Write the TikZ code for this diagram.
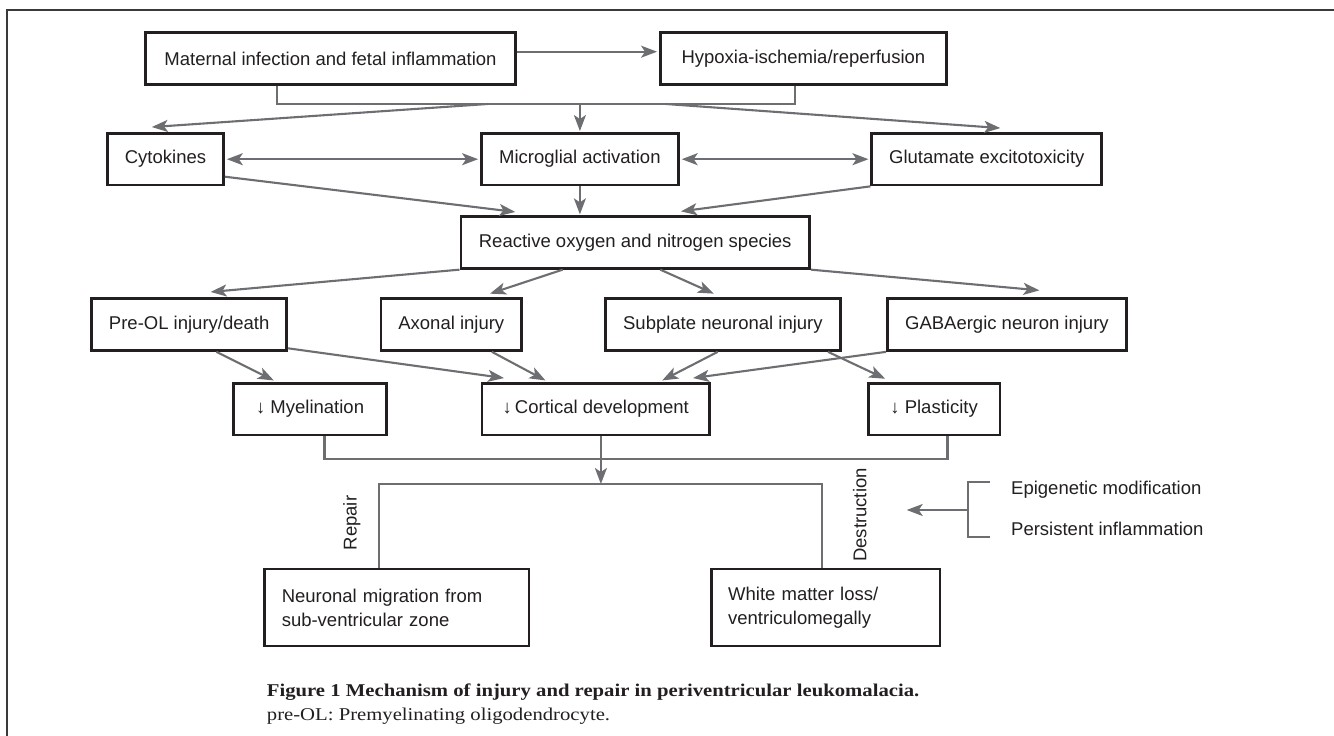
\documentclass[tikz,border=0pt]{standalone}
\usepackage{fontspec}
\setmainfont{Liberation Sans}
\newfontfamily\capfont[FakeStretch=1.15]{Liberation Serif}
\usetikzlibrary{arrows.meta}
\definecolor{ink}{HTML}{231F20}
\definecolor{conn}{HTML}{6D6E71}
\definecolor{frame}{HTML}{3A3A3A}
\begin{document}
\begin{tikzpicture}[x=1pt,y=-1pt,
  box/.style={draw=ink, line width=2.7pt, fill=white, text=ink, inner sep=0pt,
    minimum height=51.6pt, font=\fontsize{18.5}{22}\selectfont},
  tallbox/.style={box, minimum height=77pt, align=left, inner xsep=17pt,
    font=\fontsize{18.5}{24}\selectfont},
  lbl/.style={text=ink, inner sep=0pt, font=\fontsize{18.5}{22}\selectfont},
  wire/.style={draw=conn, line width=2.1pt},
  arr/.style={wire, -{Stealth[length=16pt,width=12pt,inset=4pt]}},
  darr/.style={wire, {Stealth[length=16pt,width=12pt,inset=4pt]}-{Stealth[length=16pt,width=12pt,inset=4pt]}}
]
\useasboundingbox (0,0) rectangle (1334,736);
% frame (top and left edges visible)
\draw[frame, line width=1.4pt] (7,736) -- (7,10) -- (1334,10);

% row 1
\node[box, minimum width=369.7pt] (A) at (330.5,58.5) {Maternal infection and fetal inflammation};
\node[box, minimum width=286pt] (B) at (803.4,58.5) {Hypoxia-ischemia/reperfusion};
% row 2
\node[box, minimum width=116pt] (C) at (165.5,159.2) {Cytokines};
\node[box, minimum width=196.9pt] (D) at (579.9,159.2) {Microglial activation};
\node[box, minimum width=230pt] (E) at (986.8,159.2) {Glutamate excitotoxicity};
% ROS
\node[box, minimum width=348.7pt] (F) at (635.2,242.5) {Reactive oxygen and nitrogen species};
% row 3
\node[box, minimum width=194.9pt, minimum height=52pt] (G) at (189.2,324.5) {Pre-OL injury/death};
\node[box, minimum width=140.8pt, minimum height=52pt] (H) at (451.3,324.5) {Axonal injury};
\node[box, minimum width=235.1pt, minimum height=52pt] (I) at (722.9,324.5) {Subplate neuronal injury};
\node[box, minimum width=239.1pt, minimum height=52pt] (J) at (1006.9,324.5) {GABAergic neuron injury};
% row 4
\node[box, minimum width=153.2pt] (K) at (310.1,409.2) {↓ Myelination};
\node[box, minimum width=227.7pt] (L) at (595.7,409.2) {↓\,Cortical development};
\node[box, minimum width=131.8pt] (M) at (934.1,409.2) {↓ Plasticity};
% bottom
\node[tallbox, text width=230.3pt] (N) at (396.9,607.5) {Neuronal migration from\\sub-ventricular zone};
\node[tallbox, text width=194.9pt] (O) at (825.6,607.6) {White matter loss/\\ventriculomegally};

% connectors row 1
\draw[arr, shorten >=2pt] ([yshift=6.8pt]A.east) -- ([yshift=6.8pt]B.west);
\coordinate (bar) at (579.9,104);
\coordinate (barl) at (487.6,104);
\coordinate (barr) at (665.8,104);
\draw[wire] ([xshift=-53.1pt]A.south) |- (bar) -| ([xshift=-8.4pt]B.south);
\draw[arr] (barl) -- ([xshift=-13.7pt,yshift=5pt]C.north);
\draw[arr, shorten >=1pt] (bar) -- (D.north);
\draw[arr] (barr) -- ([xshift=13.5pt,yshift=4pt]E.north);
% double arrows
\draw[darr, shorten <=2pt, shorten >=2pt] (C.east) -- (D.west);
\draw[darr, shorten <=2pt, shorten >=2pt] (D.east) -- (E.west);
% into ROS
\draw[arr] ([yshift=-17.5pt]C.east) -- ([xshift=55.8pt,yshift=3.4pt]F.north west);
\draw[arr, shorten >=1pt] (D.south) -- (D.south |- F.north);
\draw[arr] (E.south west) -- ([xshift=45.8pt,yshift=4pt]F.north);
% out of ROS
\draw[arr] (F.south west) -- ([xshift=21.4pt,yshift=5.2pt]G.north);
\draw[arr] ([xshift=-72.5pt]F.south) -- ([xshift=38.7pt,yshift=3.5pt]H.north);
\draw[arr] ([xshift=25.1pt]F.south) -- ([xshift=-9pt,yshift=3.5pt]I.north);
\draw[arr] (F.south east) -- ([xshift=32.5pt,yshift=6.8pt]J.north);
% row 3 -> row 4
\draw[arr] ([xshift=27.2pt]G.south) -- ([xshift=-36.3pt,yshift=1.6pt]K.north);
\draw[arr] ([yshift=-23.8pt]G.east) -- ([xshift=23.5pt,yshift=4pt]L.north west);
\draw[arr] ([xshift=40.6pt]H.south) -- ([xshift=-50.2pt,yshift=1.6pt]L.north);
\draw[arr] ([xshift=-5.2pt]I.south) -- ([xshift=66.5pt,yshift=1.6pt]L.north);
\draw[arr] (J.south west) -- ([xshift=97.3pt,yshift=4pt]L.north);
\draw[arr] ([xshift=105.1pt]I.south) -- ([xshift=-48.9pt,yshift=3.3pt]M.north);
% merge and split
\coordinate (bar2) at (600.9,459.3);
\coordinate (bar3) at (600.9,484);
\draw[wire] ([xshift=14.4pt]K.south) |- (bar2) -| ([xshift=13.4pt]M.south);
\draw[arr] ([xshift=5.2pt]L.south) -- (bar3);
\draw[wire] ([xshift=-18.3pt]N.north) |- (bar3) -| ([xshift=-3.3pt]O.north);
\node[lbl, rotate=90] (rep) at (351.8,523) {Repair};
\node[lbl, rotate=90] (des) at (859.8,515) {Destruction};
% side modifiers
\node[lbl, anchor=west] (epi) at (1011,490) {Epigenetic modification};
\node[lbl, anchor=west] (per) at (1011,529.3) {Persistent inflammation};
\coordinate (sbt) at (990,481.7);
\coordinate (sbb) at (990,537.3);
\coordinate (sbm) at (968.3,510);
\coordinate (sbtip) at (906.7,510);
\draw[wire] (sbt) -- (968.3,481.7) -- (968.3,537.3) -- (sbb);
\draw[arr] (sbm) -- (sbtip);

% caption
\node[anchor=base west, inner sep=0pt, text=ink, font=\capfont\bfseries\fontsize{18}{20}\selectfont] (cap1) at (266.7,696.7) {Figure 1 Mechanism of injury and repair in periventricular leukomalacia.};
\node[anchor=base west, inner sep=0pt, text=ink, font=\capfont\fontsize{18}{20}\selectfont] (cap2) at (266.7,720.7) {pre-OL: Premyelinating oligodendrocyte.};
\end{tikzpicture}
\end{document}
